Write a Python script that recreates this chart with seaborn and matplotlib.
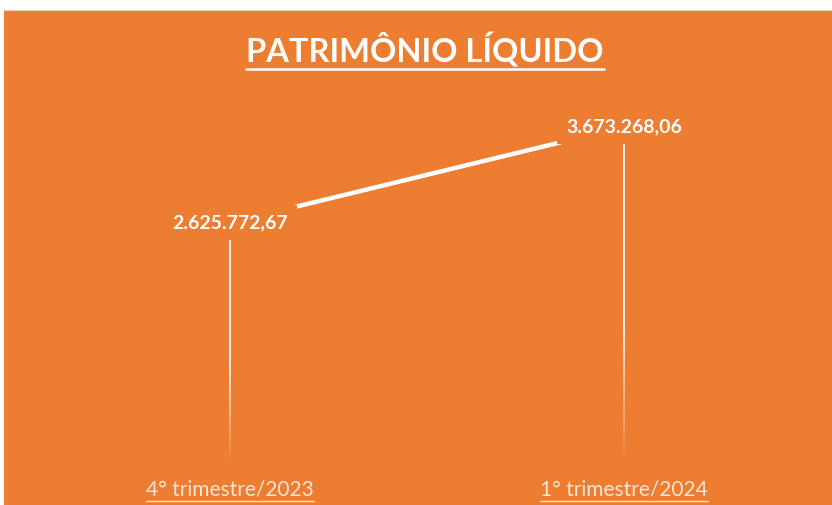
import matplotlib
matplotlib.use("Agg")
import matplotlib.pyplot as plt
import seaborn as sns
import numpy as np
import pandas as pd
from matplotlib.lines import Line2D
from matplotlib.patches import Rectangle

# ---- data ----
categories = ["4° trimestre/2023", "1° trimestre/2024"]
values = [2625772.67, 3673268.06]
value_labels = ["2.625.772,67", "3.673.268,06"]
title = "PATRIMÔNIO LÍQUIDO"

ORANGE = "#ED7D31"
FONT = ["Lato", "DejaVu Sans"]

sns.set_theme(style="white")
plt.rcParams["font.family"] = FONT

W, H = 832, 505
fig = plt.figure(figsize=(W / 100, H / 100), dpi=100, facecolor="white")
# orange panel
fig.patches.append(Rectangle((4 / W, 0), 1 - 4 / W, (H - 10) / H,
                             transform=fig.transFigure, facecolor=ORANGE,
                             edgecolor="none", zorder=-5))
fig.lines.append(Line2D([4 / W, 1], [(H - 9.5) / H] * 2, transform=fig.transFigure,
                        color="#E6D3C5", lw=0.8, zorder=-4))

ax = fig.add_axes([33 / W, (H - 463) / H, (821 - 33) / W, (463 - 97) / H])
ax.set_zorder(2)
ax.set_facecolor("none")
ax.patch.set_alpha(0)

df = pd.DataFrame({"cat": categories, "val": values})
sns.lineplot(data=df, x="cat", y="val", sort=False, ax=ax, color="white",
             lw=3.2, zorder=3)

ax.set_xlim(-0.5, 1.5)
ax.set_ylim(0, 4000000)

# drop lines with fading gradient
for i, v in enumerate(values):
    n = 60
    edges = np.linspace(0, v, n + 1)
    for k in range(n):
        frac = (edges[k] + edges[k + 1]) / 2 / v
        a = float(np.clip(frac / 0.4, 0.02, 1.0)) * 0.95
        ax.plot([i, i], [edges[k], edges[k + 1]], color="white", alpha=a,
                lw=1.3, solid_capstyle="butt", zorder=2)

# data labels
for i, (v, lab) in enumerate(zip(values, value_labels)):
    ax.text(i, v, lab, ha="center", va="center", color="white",
            fontsize=14, fontweight="bold", zorder=5,
            bbox=dict(boxstyle="square,pad=0.45", facecolor=ORANGE,
                      edgecolor="none"))

for s in ax.spines.values():
    s.set_visible(False)
ax.set_yticks([])
ax.set_xlabel("")
ax.set_ylabel("")
ax.set_xticks(range(len(categories)))
ax.set_xticklabels(categories, color="#FCE6D6", fontsize=15)
ax.tick_params(axis="x", length=0, pad=12)

t = fig.text(425 / W, 1 - 50 / H, title, ha="center", va="center",
             color="white", fontsize=23.5, fontweight="bold", zorder=5)

# underlines
fig.canvas.draw()
r = fig.canvas.get_renderer()
inv = fig.transFigure.inverted()

def underline(txt, color, lw, gap):
    bb = txt.get_window_extent(r)
    (x0, y0), (x1, _) = inv.transform([(bb.x0, bb.y0 - gap), (bb.x1, bb.y0 - gap)])
    fig.lines.append(Line2D([x0, x1], [y0, y0], transform=fig.transFigure,
                            color=color, lw=lw, zorder=5))

underline(t, "white", 1.8, 1)
for tl in ax.get_xticklabels():
    underline(tl, "#FCE6D6", 1.0, 1.0)

fig.savefig("out.png", dpi=100, facecolor="white")
